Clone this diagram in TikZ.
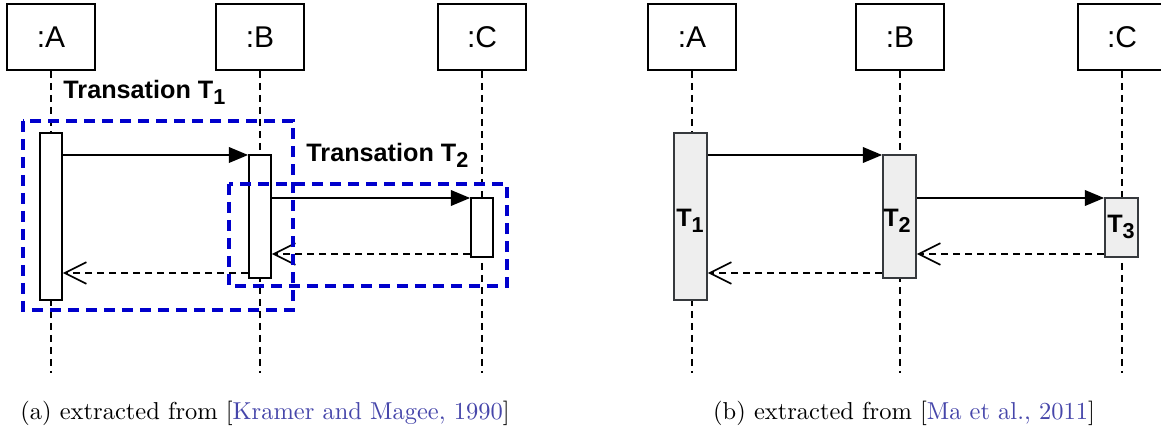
\documentclass[tikz,border=0pt]{standalone}
\usepackage{fontspec}
\newfontfamily\arialfont{Liberation Sans}
\usetikzlibrary{arrows.meta}
\definecolor{transblue}{RGB}{0,0,204}
\definecolor{actgray}{RGB}{238,238,238}
\definecolor{actborder}{RGB}{54,57,61}
\definecolor{citeblue}{RGB}{70,70,170}
\newcommand\tsub[1]{T\raisebox{-2.5pt}{\fontsize{9}{10}\selectfont #1}}
\begin{document}
\begin{tikzpicture}[x=0.4167pt, y=-0.4167pt,
	head/.style={draw, line width=0.75pt, minimum width=36.7pt, minimum height=27.5pt, inner sep=0pt, font=\arialfont\fontsize{12.5}{15}\selectfont},
	lifeline/.style={line width=0.6pt, dash pattern=on 3pt off 2pt},
	actwhite/.style={draw, line width=0.75pt, fill=white, minimum width=9.17pt, inner sep=0pt},
	actgrey/.style={draw=actborder, line width=0.75pt, fill=actgray, minimum width=13.75pt, inner sep=0pt},
	msg/.style={line width=0.7pt, -{Triangle[length=8pt,width=6.5pt]}},
	reply/.style={line width=0.7pt, dash pattern=on 3pt off 2pt, -{Straight Barb[length=9pt,width=9pt]}},
	transbox/.style={draw=transblue, line width=1.35pt, dash pattern=on 4.5pt off 3pt},
	translabel/.style={inner sep=0pt, font=\arialfont\bfseries\fontsize{10.5}{12}\selectfont},
	caption/.style={anchor=base, inner sep=0pt, font=\fontsize{10.2}{12}\selectfont}]
	\useasboundingbox (0,0) rectangle (1161,430);
	
	% (a) Kramer and Magee
	\node[head] (ha) at (51,37)  {:A};
	\node[head] (hb) at (260,37) {:B};
	\node[head] (hc) at (482,37) {:C};
	\coordinate (ea) at (51,373);
	\coordinate (eb) at (260,373);
	\coordinate (ec) at (482,373);
	\draw[lifeline] (ha) -- (ea);
	\draw[lifeline] (hb) -- (eb);
	\draw[lifeline] (hc) -- (ec);
	
	\node[actwhite, minimum height=69.6pt]  (aa) at (51,216.5)  {};
	\node[actwhite, minimum height=51.25pt] (ab) at (260,216.5) {};
	\node[actwhite, minimum height=24.6pt]  (ac) at (482,227.5) {};
	
	\coordinate (y1) at (0,155);
	\coordinate (y2) at (0,198);
	\coordinate (y3) at (0,254);
	\coordinate (y4) at (0,273);
	\draw[msg] (aa.east |- y1) -- (ab.west |- y1);
	\draw[msg] (ab.east |- y2) -- (ac.west |- y2);
	\draw[reply] (ac.west |- y3) -- (ab.east |- y3);
	\draw[reply] (ab.west |- y4) -- (aa.east |- y4);
	
	\draw[transbox] (23,121) rectangle (293,310);
	\draw[transbox] (229,184) rectangle (507,286);
	\node[translabel, anchor=base west] (t1) at (63,99)  {Transation \tsub{1}};
	\node[translabel, anchor=base west] (t2) at (306,162) {Transation \tsub{2}};
	
	\node[caption] (capa) at (265,419) {(a) extracted from [{\color{citeblue}Kramer and Magee, 1990}]};
	
	% (b) Ma et al.
	\node[head] (hba) at (692,37)  {:A};
	\node[head] (hbb) at (900,37)  {:B};
	\node[head] (hbc) at (1122,37) {:C};
	\coordinate (eba) at (692,373);
	\coordinate (ebb) at (900,373);
	\coordinate (ebc) at (1122,373);
	\draw[lifeline] (hba) -- (eba);
	\draw[lifeline] (hbb) -- (ebb);
	\draw[lifeline] (hbc) -- (ebc);
	
	\node[actgrey, minimum height=69.6pt]  (ba) at (690.5,216.5)  {};
	\node[actgrey, minimum height=51.25pt] (bb) at (899.5,216.5)  {};
	\node[actgrey, minimum height=24.6pt]  (bc) at (1121.5,227.5) {};
	
	\draw[msg] (ba.east |- y1) -- (bb.west |- y1);
	\draw[msg] (bb.east |- y2) -- (bc.west |- y2);
	\draw[reply] (bc.west |- y3) -- (bb.east |- y3);
	\draw[reply] (bb.west |- y4) -- (ba.east |- y4);
	
	\node[translabel, anchor=base] (bt1) at (690,227)  {\tsub{1}};
	\node[translabel, anchor=base] (bt2) at (897,227)  {\tsub{2}};
	\node[translabel, anchor=base] (bt3) at (1121,233) {\tsub{3}};
	
	\node[caption] (capb) at (904,419) {(b) extracted from [{\color{citeblue}Ma et al., 2011}]};
\end{tikzpicture}
\end{document}
